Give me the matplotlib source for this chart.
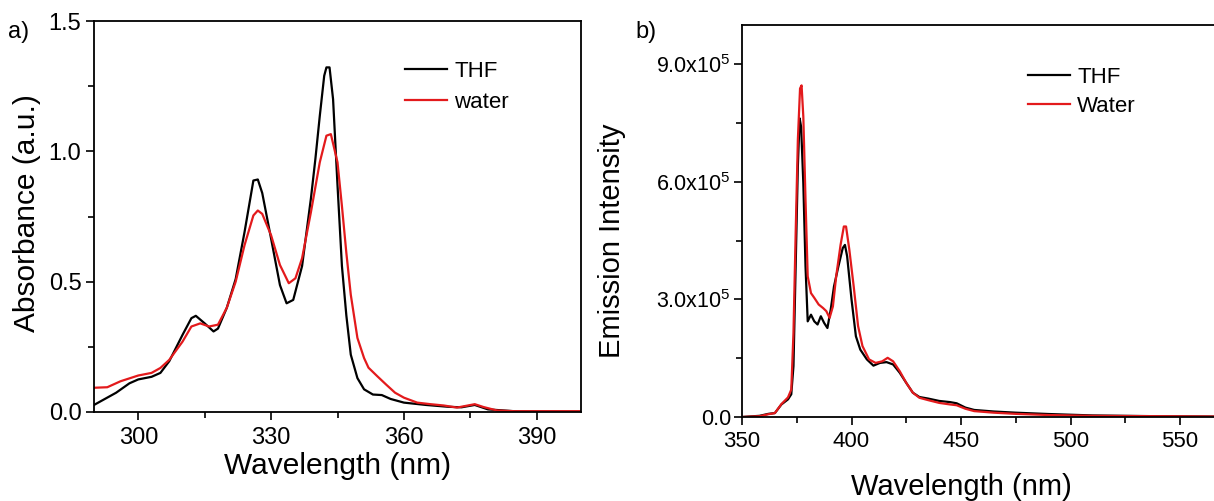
import matplotlib
matplotlib.use("Agg")
import matplotlib.pyplot as plt
from matplotlib.ticker import MultipleLocator, FuncFormatter

plt.rcParams['font.family'] = ['Liberation Sans', 'DejaVu Sans']
plt.rcParams['mathtext.fontset'] = 'custom'
plt.rcParams['mathtext.rm'] = 'Liberation Sans'
plt.rcParams['mathtext.it'] = 'Liberation Sans'

# ---- Panel a: absorbance ----
abs_thf_x = [290, 295, 298, 300, 303, 305, 307, 310, 312, 313, 315, 317, 318, 320, 322, 324, 326, 327, 328,
             330, 332, 333.5, 335, 337, 339, 340, 341, 342, 342.5, 343.2, 344, 345, 346, 347, 348, 349.5,
             351, 353, 355, 357, 360, 365, 370, 373, 376, 379, 385, 400]
abs_thf_y = [0.027, 0.074, 0.11, 0.125, 0.135, 0.15, 0.195, 0.296, 0.36, 0.369, 0.34, 0.309, 0.32, 0.40,
             0.51, 0.69, 0.888, 0.892, 0.84, 0.665, 0.487, 0.417, 0.43, 0.56, 0.82, 0.97, 1.136, 1.29,
             1.322, 1.322, 1.2, 0.87, 0.56, 0.37, 0.22, 0.13, 0.087, 0.067, 0.065, 0.05, 0.036, 0.027,
             0.02, 0.018, 0.027, 0.01, 0.003, 0.002]
abs_wat_x = [290, 293, 296, 300, 303, 305, 307, 310, 312, 314, 316, 318, 320, 322, 324, 326, 327, 328, 330,
             332, 334, 335.5, 337, 339, 341, 342.5, 343.5, 345, 346, 347, 348, 349.5, 351, 352, 354, 356,
             358, 360, 363, 366, 369, 372, 376, 378, 381, 385, 400]
abs_wat_y = [0.093, 0.095, 0.118, 0.14, 0.15, 0.169, 0.2, 0.27, 0.328, 0.34, 0.328, 0.335, 0.40, 0.50,
             0.64, 0.754, 0.773, 0.76, 0.678, 0.564, 0.494, 0.513, 0.59, 0.767, 0.958, 1.06, 1.066, 0.958,
             0.79, 0.61, 0.45, 0.284, 0.207, 0.17, 0.137, 0.105, 0.074, 0.055, 0.036, 0.03, 0.025, 0.017,
             0.03, 0.019, 0.006, 0.003, 0.003]

# ---- Panel b: emission (units of 1e5) ----
em_thf_x = [350, 358, 362, 365, 368, 371, 372.5, 373.5, 374.5, 375.5, 376.3, 377, 378, 379, 380, 381.5,
            383, 384.5, 386, 387.5, 389, 390.5, 392, 394, 396, 397, 398, 400, 402, 404, 407, 410, 413,
            416, 419, 422, 425, 428, 431, 435, 440, 445, 448, 452, 456, 465, 475, 490, 510, 540, 570]
em_thf_y = [0, 0.03, 0.08, 0.1, 0.32, 0.45, 0.58, 1.3, 3.84, 6.39, 7.62, 7.4, 5.96, 3.84, 2.44, 2.61,
            2.44, 2.36, 2.57, 2.40, 2.27, 2.74, 3.33, 3.84, 4.31, 4.39, 4.10, 3.0, 2.06, 1.72, 1.47, 1.31,
            1.38, 1.40, 1.34, 1.13, 0.87, 0.62, 0.51, 0.47, 0.41, 0.38, 0.35, 0.24, 0.18, 0.14, 0.11,
            0.076, 0.04, 0.02, 0.01]
em_wat_x = [350, 358, 362, 365, 368, 371, 372.5, 373.5, 374.5, 375.5, 376.5, 377.2, 378, 379, 380, 381.5,
            383, 385, 387, 388.5, 390, 391.5, 393, 395, 396.5, 397.5, 399, 401, 403, 405, 408, 411, 414,
            416.5, 419, 422, 425, 428, 431, 435, 440, 445, 448, 452, 456, 465, 475, 490, 510, 540, 570]
em_wat_y = [0, 0.02, 0.07, 0.1, 0.33, 0.5, 0.7, 2.15, 4.69, 7.07, 8.38, 8.46, 7.66, 5.54, 3.59, 3.16,
            3.04, 2.87, 2.78, 2.70, 2.53, 2.82, 3.59, 4.39, 4.86, 4.86, 4.27, 3.33, 2.32, 1.81, 1.47, 1.38,
            1.42, 1.51, 1.42, 1.17, 0.87, 0.62, 0.49, 0.43, 0.36, 0.32, 0.30, 0.21, 0.15, 0.11, 0.08,
            0.05, 0.03, 0.02, 0.01]
em_scale = 1e5

fig = plt.figure(figsize=(12.14, 5.01), dpi=100)

RED = '#e31a1c'

# Panel a
ax1 = fig.add_axes([94/1214, 89/501, 487/1214, 391/501])
ax1.plot(abs_thf_x, abs_thf_y, color='black', lw=1.6, label='THF')
ax1.plot(abs_wat_x, abs_wat_y, color=RED, lw=1.6, label='water')
ax1.set_xlim(290, 400)
ax1.set_ylim(0, 1.5)
ax1.xaxis.set_major_locator(MultipleLocator(30))
ax1.xaxis.set_minor_locator(MultipleLocator(15))
ax1.yaxis.set_major_locator(MultipleLocator(0.5))
ax1.yaxis.set_minor_locator(MultipleLocator(0.25))
ax1.yaxis.set_major_formatter(FuncFormatter(lambda v, p: f"{v:.1f}"))
ax1.tick_params(which='major', direction='out', length=6, width=1.2, labelsize=17, colors='black')
ax1.tick_params(which='minor', direction='out', length=4, width=1.2)
ax1.tick_params(axis='x', pad=5)
ax1.tick_params(axis='y', pad=3)
for s in ax1.spines.values():
    s.set_linewidth(1.3)
ax1.set_xlabel('Wavelength (nm)', fontsize=21.5)
ax1.set_ylabel('Absorbance (a.u.)', fontsize=21.5)
ax1.xaxis.set_label_coords(0.5, -0.103)
ax1.yaxis.set_label_coords(-0.108, 0.51)
ax1.legend(loc='upper left', bbox_to_anchor=(0.6386, 0.897), frameon=False, fontsize=16,
           handlelength=1.9, handletextpad=0.32, labelspacing=0.42, borderpad=0, borderaxespad=0)
fig.text(8/1214, 1 - 32/501, 'a)', fontsize=17, va='center', ha='left')

# Panel b
ax2 = fig.add_axes([742/1214, 84/501, 472/1214, 392/501])
ax2.plot(em_thf_x, [v * em_scale for v in em_thf_y], color='black', lw=1.6, label='THF')
ax2.plot(em_wat_x, [v * em_scale for v in em_wat_y], color=RED, lw=1.6, label='Water')
ax2.set_xlim(350, 565.5)
ax2.set_ylim(0, 1.0e6)
ax2.spines['right'].set_visible(False)
ax2.xaxis.set_major_locator(MultipleLocator(50))
ax2.xaxis.set_minor_locator(MultipleLocator(25))
ax2.yaxis.set_major_locator(MultipleLocator(3e5))
ax2.yaxis.set_minor_locator(MultipleLocator(1.5e5))


def sci(v, p):
    if abs(v) < 1e-9:
        return '0.0'
    return r'%.1fx10$^{5}$' % (v / 1e5)


ax2.yaxis.set_major_formatter(FuncFormatter(sci))
ax2.tick_params(which='major', direction='out', length=6, width=1.2, colors='black')
ax2.tick_params(which='minor', direction='out', length=4, width=1.2)
ax2.tick_params(axis='y', labelsize=15.5, pad=2)
ax2.tick_params(axis='x', labelsize=16, pad=4)
for s in ax2.spines.values():
    s.set_linewidth(1.3)
ax2.set_xlabel('Wavelength (nm)', fontsize=21)
ax2.set_ylabel('Emission Intensity', fontsize=21)
ax2.xaxis.set_label_coords(0.464, -0.143)
ax2.yaxis.set_label_coords(-0.245, 0.45)
ax2.legend(loc='upper left', bbox_to_anchor=(0.606, 0.893), frameon=False, fontsize=16,
           handlelength=1.9, handletextpad=0.32, labelspacing=0.36, borderpad=0, borderaxespad=0)
fig.text(635/1214, 1 - 32/501, 'b)', fontsize=17, va='center', ha='left')

fig.savefig('out.png', dpi=100, facecolor='white')
